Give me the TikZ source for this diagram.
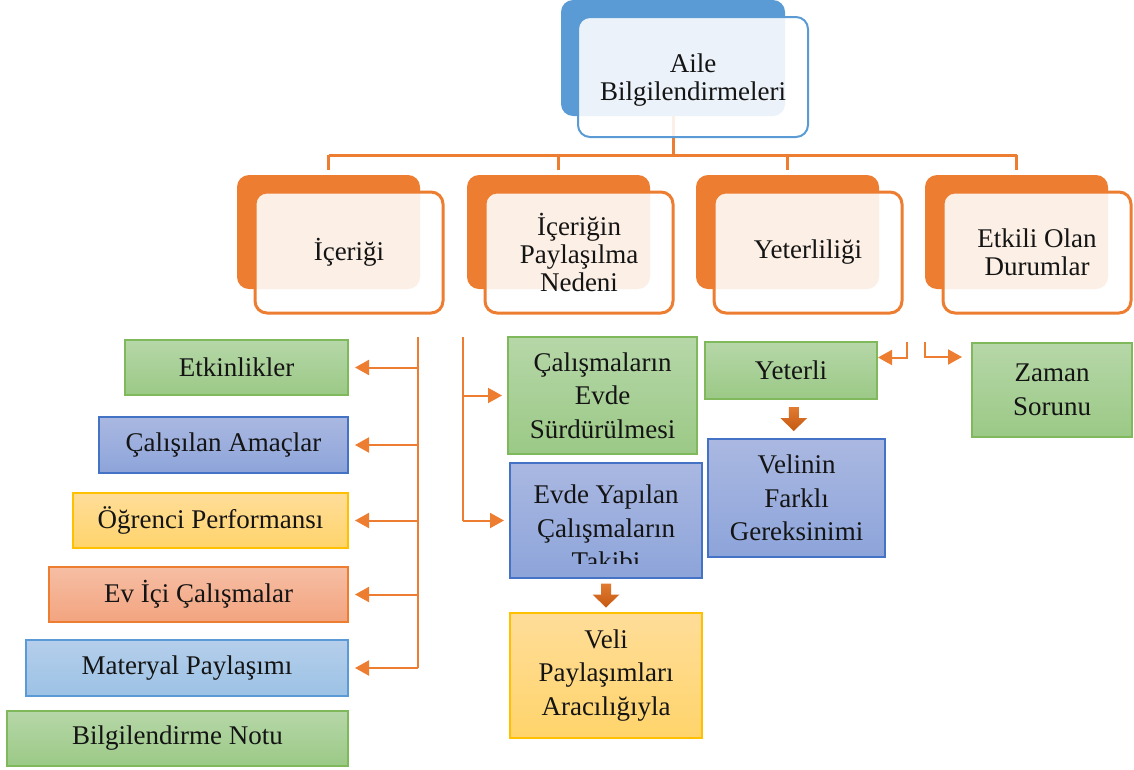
\documentclass[tikz,border=0pt]{standalone}
\usepackage{fontspec}
\setmainfont{Liberation Serif}
\usetikzlibrary{arrows.meta,calc}

\definecolor{accOrange}{HTML}{ED7D31}
\definecolor{accBlue}{HTML}{5B9BD5}
\definecolor{blkTop}{HTML}{E27A31}
\definecolor{blkBot}{HTML}{C55A11}
\definecolor{grnTop}{HTML}{B6D7A8}
\definecolor{grnBot}{HTML}{9BC986}
\definecolor{grnLine}{HTML}{7FB95B}
\definecolor{bluTop}{HTML}{AAB8E1}
\definecolor{bluBot}{HTML}{8DA4DA}
\definecolor{bluLine}{HTML}{4472C4}
\definecolor{ylwTop}{HTML}{FFDD99}
\definecolor{ylwBot}{HTML}{FFD46B}
\definecolor{ylwLine}{HTML}{FFC000}
\definecolor{salTop}{HTML}{F6BEA4}
\definecolor{salBot}{HTML}{F3A47F}
\definecolor{lbTop}{HTML}{B5CEEB}
\definecolor{lbBot}{HTML}{9CC2E5}
\definecolor{inkText}{HTML}{141414}

\newcommand\hierfont{\fontsize{27}{28}\selectfont}
\newcommand\leaffont{\fontsize{27}{33.5}\selectfont}

\begin{document}
\begin{tikzpicture}[x=1pt,y=-1pt,
  backbox/.style={rectangle, rounded corners=12pt, inner sep=0pt, outer sep=0pt},
  frontbox/.style={rectangle, rounded corners=12pt, fill=white, fill opacity=0.88,
    text opacity=1, inner sep=0pt, outer sep=0pt, align=center, font=\hierfont, text=inkText},
  leaf/.style={rectangle, inner sep=0pt, outer sep=0pt, line width=1.4pt,
    align=center, font=\leaffont, text=inkText},
  gbox/.style={leaf, draw=grnLine, top color=grnTop, bottom color=grnBot},
  bbox/.style={leaf, draw=bluLine, top color=bluTop, bottom color=bluBot},
  ybox/.style={leaf, draw=ylwLine, top color=ylwTop, bottom color=ylwBot},
  sbox/.style={leaf, draw=accOrange, top color=salTop, bottom color=salBot},
  lbox/.style={leaf, draw=accBlue, top color=lbTop, bottom color=lbBot},
  bus/.style={draw=accOrange, line width=3pt},
  link/.style={draw=accOrange, line width=2pt},
  tip/.style={-{Triangle[length=14pt,width=15pt]}},
  blk/.style={top color=blkTop, bottom color=blkBot}
]
\useasboundingbox (0,0) rectangle (1134,769);

% ---- root: Aile Bilgilendirmeleri ----
\node[backbox, fill=accBlue, minimum width=224pt, minimum height=116pt] (topback) at (673,58) {};

% ---- second level, coloured backs ----
\foreach \n/\x in {b1/237, b2/467, b3/696, b4/925}
  \node[backbox, fill=accOrange, minimum width=183pt, minimum height=114pt] (\n back) at (\x+91.5,232) {};

% ---- hierarchy bus ----
\draw[bus] (topback.south) -- ++(0,39) coordinate (busmid);
\draw[bus] (b1back.north |- busmid) -- (b4back.north |- busmid);
\foreach \n in {b1,b2,b3,b4}
  \draw[bus, shorten >=5pt] (\n back.north |- busmid) -- (\n back.north);

% ---- front panels ----
\node[frontbox, draw=accBlue, line width=2pt, minimum width=230pt, minimum height=120pt] (top) at (693,77) {};
\node[frontbox, fill=none, draw=none] (toptext) at (693,80) {Aile\\Bilgilendirmeleri};
\node[frontbox, draw=accOrange, line width=3pt, minimum width=188pt, minimum height=121pt] (b1) at (349,252.5) {İçeriği};
\node[frontbox, draw=accOrange, line width=3pt, minimum width=188pt, minimum height=121pt] (b2) at (579,252.5) {İçeriğin\\Paylaşılma\\Nedeni};
\node[frontbox, draw=accOrange, line width=3pt, minimum width=188pt, minimum height=121pt] (b3) at (808,252.5) {Yeterliliği};
\node[frontbox, draw=accOrange, line width=3pt, minimum width=188pt, minimum height=121pt] (b4) at (1037,252.5) {Etkili Olan\\Durumlar};

% ---- content column ----
\node[gbox, minimum width=223pt, minimum height=55pt] (etk) at (236.5,367.5) {Etkinlikler};
\node[bbox, minimum width=249pt, minimum height=56pt] (ama) at (223.5,445) {Çalışılan Amaçlar};
\node[ybox, minimum width=275pt, minimum height=55pt] (ogr) at (210.5,520.5) {Öğrenci Performansı};
\node[sbox, minimum width=299pt, minimum height=55pt] (evi) at (198.5,594.5) {Ev İçi Çalışmalar};
\node[lbox, minimum width=322pt, minimum height=56pt] (mat) at (187,668) {Materyal Paylaşımı};
\node[gbox, minimum width=341pt, minimum height=55pt] (bil) at (177.5,738.5) {Bilgilendirme Notu};

\coordinate (lc) at (418,337);
\draw[link] (lc) -- (lc |- mat.east);
\foreach \n in {etk,ama,ogr,evi,mat}
  \draw[link, tip, shorten >=7pt] (lc |- \n.east) -- (\n.east);

% ---- reasons column ----
\node[gbox, minimum width=189pt, minimum height=117pt] (cal) at (602.5,395.5) {Çalışmaların\\Evde\\Sürdürülmesi};
\node[bbox, minimum width=192pt, minimum height=115pt] (evy) at (606,520.5) {};
\begin{scope}
  % the third line runs past the text area of the box and is cut off
  \clip ([yshift=15pt]evy.south west) rectangle (evy.north east);
  \node[leaf, draw=none] (evytext) at (606,528) {Evde Yapılan\\Çalışmaların\\Takibi};
\end{scope}
\node[ybox, minimum width=192pt, minimum height=125pt] (vel) at (606,675.5) {Veli\\Paylaşımları\\Aracılığıyla};

\coordinate (mc) at (463,337);
\draw[link] (mc) -- (mc |- evy.west);
\draw[link, tip, shorten >=6pt] (mc |- cal.west) -- (cal.west);
\draw[link, tip, shorten >=6pt] (mc |- evy.west) -- (evy.west);

\coordinate (ba2) at ($(evy.south)!0.5!(vel.north)$);
\shade[blk] ([shift={(-5,-12)}]ba2) -- ([shift={(5,-12)}]ba2) -- ([shift={(5,-1)}]ba2)
  -- ([shift={(13.5,-1)}]ba2) -- ([shift={(0,12)}]ba2) -- ([shift={(-13.5,-1)}]ba2)
  -- ([shift={(-5,-1)}]ba2) -- cycle;

% ---- adequacy and conditions ----
\node[gbox, minimum width=172pt, minimum height=57pt] (yet) at (791,370.5) {Yeterli};
\node[bbox, minimum width=177pt, minimum height=118pt] (ihtiyac) at (796.5,498) {Velinin\\Farklı\\Gereksinimi};
\node[gbox, minimum width=160pt, minimum height=94pt] (zam) at (1052,390) {Zaman\\Sorunu};

\coordinate (ra) at (907,342);
\coordinate (rb) at (925,342);
\draw[link, tip, shorten >=1pt] (ra) |- ([yshift=13pt]yet.east);
\draw[link, tip, shorten >=10pt] (rb) |- ([yshift=33pt]zam.west);

\coordinate (ba1) at ($(yet.south)!0.5!(ihtiyac.north)$);
\shade[blk] ([shift={(-5,-12)}]ba1) -- ([shift={(5,-12)}]ba1) -- ([shift={(5,-1)}]ba1)
  -- ([shift={(13.5,-1)}]ba1) -- ([shift={(0,12)}]ba1) -- ([shift={(-13.5,-1)}]ba1)
  -- ([shift={(-5,-1)}]ba1) -- cycle;
\end{tikzpicture}
\end{document}
